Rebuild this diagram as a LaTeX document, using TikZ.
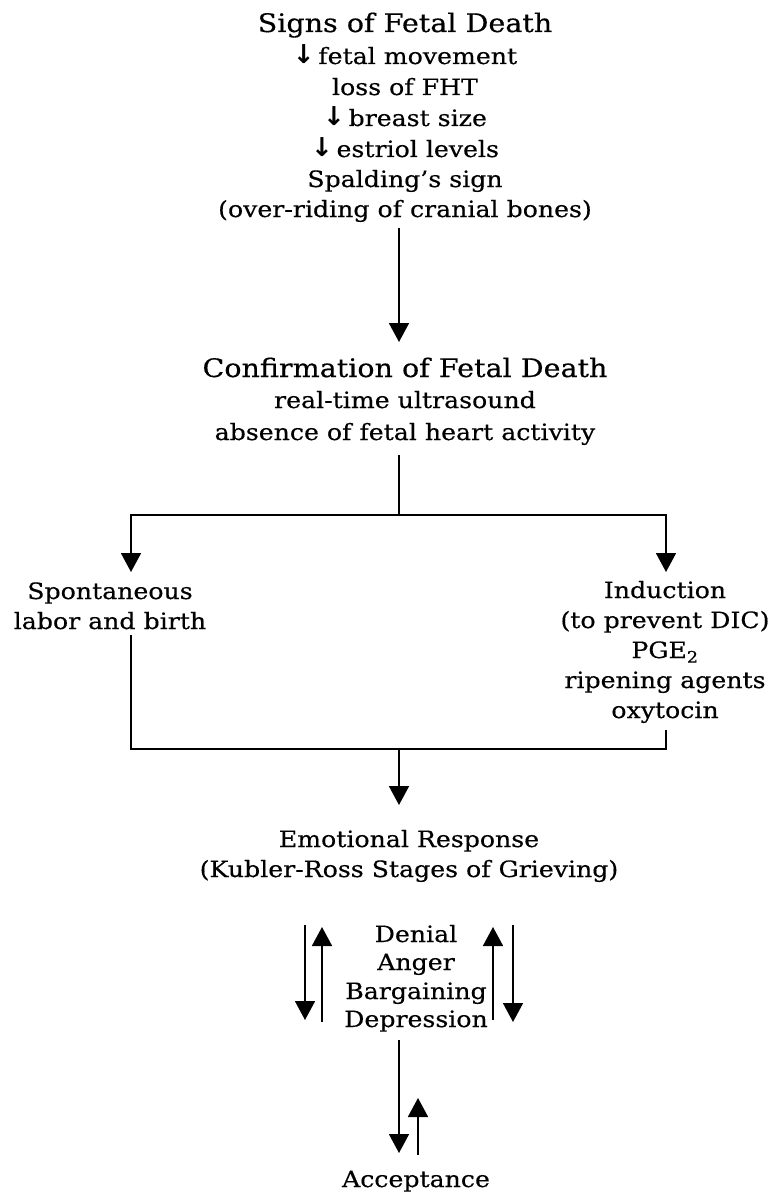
\documentclass[tikz,border=0pt]{standalone}
\usepackage{fontspec}
\setmainfont{DejaVu Serif}[FakeStretch=1.12,FakeBold=0.4]
\newfontfamily\symfont{DejaVu Sans}
\usetikzlibrary{arrows.meta}
\newcommand\dnarrow{{\symfont\bfseries\fontsize{26}{27}\selectfont ↓}\,}
\begin{document}
\begin{tikzpicture}[x=1pt,y=-1pt,
  txt/.style={inner sep=0pt, anchor=base, font=\fontsize{22.5}{27}\selectfont},
  head/.style={inner sep=0pt, anchor=base, font=\fontsize{25.5}{30}\selectfont},
  link/.style={line width=1.8pt},
  arr/.style={line width=1.8pt, -{Triangle[width=20pt,length=19pt]}},
]
\useasboundingbox (0,0) rectangle (770,1193);

% signs of fetal death
\node[head] (sig0) at (405,32)  {Signs of Fetal Death};
\node[txt]  (sig1) at (405,64)  {\dnarrow fetal movement};
\node[txt]  (sig2) at (405,95)  {loss of FHT};
\node[txt]  (sig3) at (405,126) {\dnarrow breast size};
\node[txt]  (sig4) at (405,157) {\dnarrow estriol levels};
\node[txt]  (sig5) at (405,187) {Spalding’s sign};
\node[txt]  (sig6) at (405,217) {(over-riding of cranial bones)};

% confirmation
\node[head] (con0) at (405,377) {Confirmation of Fetal Death};
\node[txt]  (con1) at (405,408) {real-time ultrasound};
\node[txt]  (con2) at (405,440) {absence of fetal heart activity};

% the two ways of delivery
\node[txt] (spo0) at (110,599) {Spontaneous};
\node[txt] (spo1) at (110,629) {labor and birth};

\node[txt] (ind0) at (665,598) {Induction};
\node[txt] (ind1) at (665,628) {(to prevent DIC)};
\node[txt] (ind2) at (665,658) {PGE\textsubscript{2}};
\node[txt] (ind3) at (665,688) {ripening agents};
\node[txt] (ind4) at (665,718) {oxytocin};

% grieving
\node[txt] (emo0) at (409,847) {Emotional Response};
\node[txt] (emo1) at (409,877) {(Kubler-Ross Stages of Grieving)};

\node[txt] (st1) at (416,942)  {Denial};
\node[txt] (st2) at (416,970)  {Anger};
\node[txt] (st3) at (416,999)  {Bargaining};
\node[txt] (st4) at (416,1027) {Depression};

\node[txt] (acc) at (416,1187) {Acceptance};

% junctions and columns of the connectors
\coordinate (trunk) at (399,0);
\coordinate (split) at (399,515);
\coordinate (tipL)  at (131,572);
\coordinate (tipR)  at (666,572);
\coordinate (joinL) at (131,749);
\coordinate (joinR) at (666,749);
\coordinate (join)  at (399,749);
\coordinate (lcol)  at (131,0);
\coordinate (rcol)  at (666,0);
\coordinate (c1) at (305,0);
\coordinate (c2) at (322,0);
\coordinate (c3) at (493,0);
\coordinate (c4) at (513,0);
\coordinate (c5) at (418,0);

% connectors
\draw[arr] ([yshift=-11pt]sig6.base -| trunk) -- ([yshift=35pt]con0.base -| trunk);
\draw[link] ([yshift=-15pt]con2.base -| trunk) -- (split);
\draw[arr] (split) -| (tipL);
\draw[arr] (split) -| (tipR);
\draw[link] ([yshift=-6pt]spo1.base -| lcol) -- (joinL) -- (joinR) -- ([yshift=-12pt]ind4.base -| rcol);
\draw[arr] (join) -- ([yshift=42pt]emo0.base -| trunk);

% back and forth between the stages
\draw[arr] ([yshift=17pt]st1.base -| c1) -- ([yshift=7pt]st4.base -| c1);
\draw[arr] ([yshift=5pt]st4.base -| c2) -- ([yshift=15pt]st1.base -| c2);
\draw[arr] ([yshift=7pt]st4.base -| c3) -- ([yshift=15pt]st1.base -| c3);
\draw[arr] ([yshift=17pt]st1.base -| c4) -- ([yshift=5pt]st4.base -| c4);

% towards acceptance and back
\draw[arr] ([yshift=-13pt]st4.base -| trunk) -- ([yshift=34pt]acc.base -| trunk);
\draw[arr] ([yshift=32pt]acc.base -| c5) -- ([yshift=89pt]acc.base -| c5);
\end{tikzpicture}
\end{document}
